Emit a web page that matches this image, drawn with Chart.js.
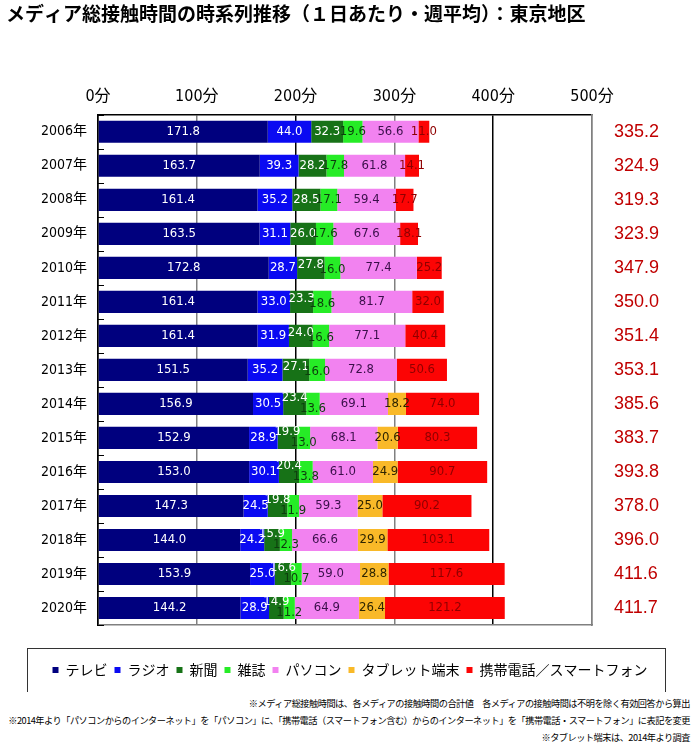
<!DOCTYPE html>
<html lang="ja">
<head>
<meta charset="utf-8">
<title>メディア総接触時間の時系列推移</title>
<script src="https://cdn.jsdelivr.net/npm/chart.js@4.4.1/dist/chart.umd.min.js"></script>
<style>
  body { margin: 0; background: #fff; }
  #wrap { position: relative; width: 694px; height: 747px; }
  #chart-box { position: absolute; left: 0; top: 0; width: 694px; height: 692px; }
  .notes {
    position: absolute; right: 4px; top: 695px; width: 694px;
    font-family: 'Noto Sans CJK JP', sans-serif; font-size: 9.2px;
    letter-spacing: -0.5px; line-height: 17px; text-align: right; color: #000;
  }
</style>
</head>
<body>
<div id="wrap">
  <div id="chart-box"><canvas id="mediaChart"></canvas></div>
  <div class="notes">
    <div>※メディア総接触時間は、各メディアの接触時間の合計値　各メディアの接触時間は不明を除く有効回答から算出</div>
    <div>※2014年より「パソコンからのインターネット」を「パソコン」に、「携帯電話（スマートフォン含む）からのインターネット」を「携帯電話・スマートフォン」に表記を変更</div>
    <div>※タブレット端末は、2014年より調査</div>
  </div>
</div>
<script>
// data
const years = ['2006年', '2007年', '2008年', '2009年', '2010年', '2011年', '2012年', '2013年',
               '2014年', '2015年', '2016年', '2017年', '2018年', '2019年', '2020年'];
const tv      = [171.8, 163.7, 161.4, 163.5, 172.8, 161.4, 161.4, 151.5, 156.9, 152.9, 153.0, 147.3, 144.0, 153.9, 144.2];
const radio   = [44.0, 39.3, 35.2, 31.1, 28.7, 33.0, 31.9, 35.2, 30.5, 28.9, 30.1, 24.5, 24.2, 25.0, 28.9];
const paper   = [32.3, 28.2, 28.5, 26.0, 27.8, 23.3, 24.0, 27.1, 23.4, 19.9, 20.4, 19.8, 15.9, 16.6, 14.9];
const magazine= [19.6, 17.8, 17.1, 17.6, 16.0, 18.6, 16.6, 16.0, 13.6, 13.0, 13.8, 11.9, 12.3, 10.7, 11.2];
const pc      = [56.6, 61.8, 59.4, 67.6, 77.4, 81.7, 77.1, 72.8, 69.1, 68.1, 61.0, 59.3, 66.6, 59.0, 64.9];
const tablet  = [null, null, null, null, null, null, null, null, 18.2, 20.6, 24.9, 25.0, 29.9, 28.8, 26.4];
const mobile  = [11.0, 14.1, 17.7, 18.1, 25.2, 32.0, 40.4, 50.6, 74.0, 80.3, 90.7, 90.2, 103.1, 117.6, 121.2];
const totals  = [335.2, 324.9, 319.3, 323.9, 347.9, 350.0, 351.4, 353.1, 385.6, 383.7, 393.8, 378.0, 396.0, 411.6, 411.7];
const xTickLabels = ['0分', '100分', '200分', '300分', '400分', '500分'];

const SANS = "'DejaVu Sans', 'Noto Sans CJK JP', sans-serif";
const JP = "'Noto Sans CJK JP', sans-serif";

function series(label, data, color, textColor) {
    return {
        label: label,
        data: data,
        backgroundColor: color,
        borderWidth: 0,
        barPercentage: 0.65,
        categoryPercentage: 1.0,
        textColor: textColor // used by the label plugin below
    };
}

// numbers inside each segment
const segmentLabels = {
    id: 'segmentLabels',
    afterDatasetsDraw(chart) {
        const ctx = chart.ctx;
        ctx.save();
        ctx.font = "condensed 13px " + SANS;
        ctx.textAlign = 'center';
        ctx.textBaseline = 'middle';
        chart.data.datasets.forEach((ds, di) => {
            const meta = chart.getDatasetMeta(di);
            meta.data.forEach((bar, i) => {
                const v = ds.data[i];
                if (v == null) return;
                let dy = 0;
                // newspaper / magazine labels are staggered once the segments get thin
                if (di === 2) dy = i >= 8 ? -6 : (i >= 4 ? -3 : 0);
                if (di === 3) dy = i >= 8 ? 5 : (i >= 4 ? 2 : 0);
                ctx.fillStyle = ds.textColor;
                ctx.fillText(v.toFixed(1), (bar.x + bar.base) / 2, bar.y + dy);
            });
        });
        ctx.restore();
    }
};

// small inward ticks on the left axis between categories + legend frame
const frameBits = {
    id: 'frameBits',
    afterDraw(chart) {
        const ctx = chart.ctx;
        const y = chart.scales.y;
        const left = chart.chartArea.left;
        ctx.save();
        ctx.strokeStyle = '#000';
        ctx.lineWidth = 1;
        ctx.beginPath();
        for (let i = 0; i <= years.length; i++) {
            const py = Math.round(y.getPixelForValue(i - 0.5)) + 0.5;
            ctx.moveTo(left, py);
            ctx.lineTo(left + 6, py);
        }
        ctx.stroke();

        const boxes = chart.legend.legendHitBoxes;
        if (boxes && boxes.length) {
            const cy = boxes[0].top + boxes[0].height / 2;
            ctx.strokeStyle = '#333';
            ctx.strokeRect(27.5, Math.round(cy - 22) + 0.5, 638, 44);
        }
        ctx.restore();
    }
};

function initMediaChart(ctxId) {
    const ctx = document.getElementById(ctxId)?.getContext('2d');
    if (!ctx) return;
    new Chart(ctx, {
        type: 'bar',
        data: {
            labels: years,
            datasets: [
                series('テレビ', tv, '#00007e', '#ffffff'),
                series('ラジオ', radio, '#0a0af2', '#ffffff'),
                series('新聞', paper, '#177217', '#ffffff'),
                series('雑誌', magazine, '#26ec26', '#0d3d0d'),
                series('パソコン', pc, '#f282f0', '#3a0f4a'),
                series('タブレット端末', tablet, '#f9b928', '#2d2400'),
                series('携帯電話／スマートフォン', mobile, '#fc0404', '#8f0000')
            ]
        },
        options: {
            indexAxis: 'y',
            responsive: true,
            maintainAspectRatio: false,
            animation: false,
            layout: { padding: { left: 6, right: 0, top: 0, bottom: 5 } },
            scales: {
                x: {
                    type: 'linear',
                    position: 'top',
                    stacked: true,
                    min: 0,
                    max: 500,
                    ticks: {
                        stepSize: 100,
                        padding: 8,
                        color: '#000',
                        font: { size: 16, family: SANS, weight: 'condensed' },
                        callback: (v) => xTickLabels[v / 100]
                    },
                    grid: {
                        drawTicks: false,
                        color: (c) => (c.tick && c.tick.value % 200 === 0) ? '#000' : '#808080',
                        lineWidth: 1.5
                    },
                    border: { display: true, color: '#000', width: 1.5 },
                    afterFit: (s) => { s.height = 86; }
                },
                xPad: {
                    type: 'linear',
                    position: 'bottom',
                    min: 0,
                    max: 500,
                    ticks: { display: false },
                    grid: { display: false },
                    border: { display: true, color: '#808080', width: 1.5 },
                    afterFit: (s) => { s.height = 31; }
                },
                y: {
                    type: 'category',
                    stacked: true,
                    ticks: {
                        color: '#000',
                        padding: 3,
                        font: { size: 14, family: SANS, weight: 'condensed' }
                    },
                    grid: { display: false },
                    border: { display: true, color: '#000', width: 1.5 },
                    afterFit: (s) => { s.width = 92; }
                },
                yTotal: {
                    type: 'category',
                    position: 'right',
                    labels: totals.map(t => t.toFixed(1)),
                    ticks: {
                        color: '#c00000',
                        padding: 14,
                        font: { size: 18, family: "'Liberation Sans', sans-serif" }
                    },
                    grid: { display: false },
                    border: { display: true, color: '#808080', width: 1.5 },
                    afterFit: (s) => { s.width = 102; }
                }
            },
            plugins: {
                title: {
                    display: true,
                    text: 'メディア総接触時間の時系列推移（１日あたり・週平均）：東京地区',
                    align: 'start',
                    color: '#000',
                    font: { size: 19, weight: 'bold', family: JP },
                    padding: { top: 2, bottom: 4 }
                },
                legend: {
                    display: true,
                    position: 'bottom',
                    labels: {
                        color: '#000',
                        boxWidth: 6,
                        boxHeight: 6,
                        padding: 7,
                        font: { size: 14, family: JP }
                    }
                },
                tooltip: { enabled: false }
            }
        },
        plugins: [segmentLabels, frameBits]
    });
}

initMediaChart('mediaChart');
</script>
</body>
</html>
